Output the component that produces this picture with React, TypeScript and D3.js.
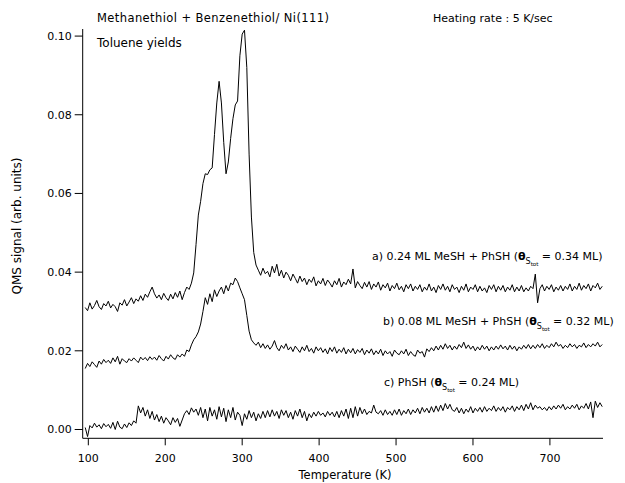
import React from "react";
import * as d3 from "d3";

// Temperature grid (K), 3 K sampling
const TEMPS: number[] = d3.range(96, 769, 3);

// a) 0.24 ML MeSH + PhSH
const TRACE_A: number[] = [
  0.0310, 0.0302, 0.0322, 0.0306, 0.0315, 0.0328, 0.0312, 0.0305, 0.0320, 0.0314,
  0.0326, 0.0309, 0.0318, 0.0312, 0.0300, 0.0322, 0.0316, 0.0330, 0.0314, 0.0324,
  0.0335, 0.0320, 0.0332, 0.0326, 0.0340, 0.0328, 0.0344, 0.0336, 0.0350, 0.0362,
  0.0345, 0.0334, 0.0342, 0.0330, 0.0346, 0.0335, 0.0328, 0.0344, 0.0332, 0.0348,
  0.0336, 0.0352, 0.0330, 0.0348, 0.0362, 0.0356, 0.0372, 0.0398, 0.0470, 0.0545,
  0.0580, 0.0625, 0.0650, 0.0648, 0.0660, 0.0665, 0.0750, 0.0830, 0.0885, 0.0830,
  0.0730, 0.0650, 0.0680, 0.0740, 0.0790, 0.0825, 0.0835, 0.0950, 0.1005, 0.1015,
  0.0920, 0.0700, 0.0540, 0.0450, 0.0418, 0.0405, 0.0392, 0.0410, 0.0396, 0.0402,
  0.0388, 0.0415, 0.0398, 0.0420, 0.0390, 0.0405, 0.0385, 0.0400, 0.0392, 0.0378,
  0.0395, 0.0384, 0.0372, 0.0390, 0.0376, 0.0385, 0.0368, 0.0382, 0.0374, 0.0388,
  0.0365, 0.0378, 0.0370, 0.0384, 0.0366, 0.0380, 0.0372, 0.0362, 0.0378, 0.0368,
  0.0384, 0.0362, 0.0375, 0.0368, 0.0382, 0.0370, 0.0408, 0.0360, 0.0376, 0.0366,
  0.0358, 0.0374, 0.0362, 0.0376, 0.0356, 0.0370, 0.0362, 0.0375, 0.0354, 0.0368,
  0.0360, 0.0372, 0.0352, 0.0366, 0.0358, 0.0372, 0.0355, 0.0364, 0.0350, 0.0368,
  0.0358, 0.0370, 0.0352, 0.0364, 0.0356, 0.0368, 0.0350, 0.0362, 0.0354, 0.0370,
  0.0352, 0.0362, 0.0348, 0.0366, 0.0356, 0.0370, 0.0354, 0.0364, 0.0350, 0.0368,
  0.0356, 0.0362, 0.0348, 0.0364, 0.0354, 0.0370, 0.0350, 0.0362, 0.0356, 0.0368,
  0.0350, 0.0364, 0.0352, 0.0360, 0.0348, 0.0366, 0.0356, 0.0368, 0.0350, 0.0364,
  0.0354, 0.0366, 0.0350, 0.0362, 0.0354, 0.0368, 0.0350, 0.0362, 0.0352, 0.0366,
  0.0350, 0.0360, 0.0352, 0.0364, 0.0358, 0.0395, 0.0322, 0.0358, 0.0368, 0.0352,
  0.0364, 0.0356, 0.0368, 0.0350, 0.0362, 0.0354, 0.0366, 0.0352, 0.0364, 0.0356,
  0.0370, 0.0352, 0.0364, 0.0356, 0.0372, 0.0354, 0.0366, 0.0358, 0.0370, 0.0352,
  0.0366, 0.0360, 0.0372, 0.0356, 0.0364,
];

// b) 0.08 ML MeSH + PhSH
const TRACE_B: number[] = [
  0.0155, 0.0168, 0.0160, 0.0172, 0.0165, 0.0158, 0.0174, 0.0166, 0.0178, 0.0170,
  0.0176, 0.0168, 0.0182, 0.0172, 0.0186, 0.0166, 0.0180, 0.0174, 0.0170, 0.0180,
  0.0174, 0.0182, 0.0176, 0.0170, 0.0184, 0.0177, 0.0183, 0.0175, 0.0185, 0.0178,
  0.0184, 0.0176, 0.0188, 0.0180, 0.0174, 0.0186, 0.0179, 0.0190, 0.0182, 0.0178,
  0.0190, 0.0184, 0.0192, 0.0186, 0.0202, 0.0198, 0.0215, 0.0228, 0.0236, 0.0248,
  0.0268, 0.0300, 0.0335, 0.0318, 0.0345, 0.0325, 0.0355, 0.0338, 0.0352, 0.0362,
  0.0345, 0.0366, 0.0352, 0.0372, 0.0368, 0.0385, 0.0376, 0.0360, 0.0345, 0.0330,
  0.0290, 0.0250, 0.0228, 0.0220, 0.0214, 0.0222, 0.0208, 0.0218, 0.0206, 0.0215,
  0.0204, 0.0212, 0.0226, 0.0208, 0.0200, 0.0214, 0.0206, 0.0218, 0.0202, 0.0210,
  0.0198, 0.0212, 0.0204, 0.0196, 0.0210, 0.0200, 0.0214, 0.0198, 0.0206, 0.0194,
  0.0210, 0.0200, 0.0208, 0.0196, 0.0205, 0.0192, 0.0208, 0.0198, 0.0210, 0.0194,
  0.0204, 0.0196, 0.0208, 0.0192, 0.0204, 0.0195, 0.0206, 0.0192, 0.0203, 0.0196,
  0.0206, 0.0190, 0.0202, 0.0194, 0.0205, 0.0190, 0.0200, 0.0192, 0.0204, 0.0188,
  0.0200, 0.0192, 0.0198, 0.0186, 0.0202, 0.0194, 0.0190, 0.0200, 0.0192, 0.0204,
  0.0188, 0.0198, 0.0190, 0.0186, 0.0202, 0.0194, 0.0198, 0.0184, 0.0205, 0.0198,
  0.0208, 0.0200, 0.0212, 0.0202, 0.0214, 0.0204, 0.0218, 0.0206, 0.0214, 0.0202,
  0.0212, 0.0204, 0.0216, 0.0208, 0.0222, 0.0206, 0.0215, 0.0204, 0.0212, 0.0200,
  0.0210, 0.0202, 0.0214, 0.0204, 0.0212, 0.0200, 0.0210, 0.0202, 0.0212, 0.0204,
  0.0215, 0.0205, 0.0212, 0.0202, 0.0214, 0.0204, 0.0212, 0.0200, 0.0210, 0.0204,
  0.0214, 0.0206, 0.0216, 0.0205, 0.0214, 0.0206, 0.0216, 0.0208, 0.0218, 0.0206,
  0.0214, 0.0208, 0.0218, 0.0210, 0.0222, 0.0212, 0.0216, 0.0206, 0.0214, 0.0208,
  0.0218, 0.0210, 0.0216, 0.0206, 0.0214, 0.0210, 0.0220, 0.0208, 0.0216, 0.0210,
  0.0218, 0.0212, 0.0222, 0.0210, 0.0216,
];

// c) PhSH
const TRACE_C: number[] = [
  0.0005, -0.0018, 0.0010, 0.0004, 0.0016, 0.0006, 0.0012, 0.0002, 0.0015, 0.0007,
  0.0013, 0.0003, 0.0018, 0.0000, 0.0021, 0.0006, 0.0002, 0.0014, 0.0005, 0.0017,
  0.0010, 0.0022, 0.0016, 0.0060, 0.0042, 0.0056, 0.0034, 0.0050, 0.0028, 0.0046,
  0.0024, 0.0038, 0.0020, 0.0034, 0.0016, 0.0030, 0.0022, 0.0012, 0.0030, 0.0018,
  0.0028, 0.0008, 0.0024, 0.0040, 0.0048, 0.0038, 0.0055, 0.0044, 0.0052, 0.0036,
  0.0056, 0.0030, 0.0052, 0.0022, 0.0056, 0.0034, 0.0050, 0.0026, 0.0058, 0.0032,
  0.0054, 0.0020, 0.0050, 0.0030, 0.0056, 0.0024, 0.0044, 0.0036, 0.0010, 0.0040,
  0.0026, 0.0048, 0.0030, 0.0044, 0.0022, 0.0040, 0.0028, 0.0046, 0.0030, 0.0048,
  0.0032, 0.0050, 0.0034, 0.0046, 0.0028, 0.0050, 0.0036, 0.0048, 0.0030, 0.0044,
  0.0026, 0.0048, 0.0034, 0.0052, 0.0030, 0.0046, 0.0022, 0.0040, 0.0030, 0.0044,
  0.0034, 0.0046, 0.0036, 0.0042, 0.0032, 0.0046, 0.0036, 0.0044, 0.0032, 0.0046,
  0.0030, 0.0048, 0.0034, 0.0052, 0.0028, 0.0054, 0.0030, 0.0058, 0.0034, 0.0056,
  0.0040, 0.0052, 0.0038, 0.0046, 0.0042, 0.0062, 0.0044, 0.0040, 0.0048, 0.0036,
  0.0050, 0.0038, 0.0046, 0.0036, 0.0050, 0.0038, 0.0052, 0.0036, 0.0048, 0.0040,
  0.0052, 0.0038, 0.0050, 0.0042, 0.0054, 0.0040, 0.0056, 0.0044, 0.0054, 0.0042,
  0.0058, 0.0044, 0.0060, 0.0046, 0.0062, 0.0048, 0.0066, 0.0052, 0.0064, 0.0050,
  0.0046, 0.0056, 0.0042, 0.0054, 0.0040, 0.0052, 0.0044, 0.0058, 0.0042, 0.0054,
  0.0046, 0.0056, 0.0044, 0.0058, 0.0046, 0.0054, 0.0048, 0.0060, 0.0046, 0.0056,
  0.0048, 0.0058, 0.0044, 0.0056, 0.0050, 0.0060, 0.0046, 0.0058, 0.0050, 0.0062,
  0.0048, 0.0064, 0.0052, 0.0068, 0.0050, 0.0062, 0.0054, 0.0058, 0.0050, 0.0056,
  0.0048, 0.0058, 0.0050, 0.0060, 0.0052, 0.0062, 0.0054, 0.0064, 0.0050, 0.0058,
  0.0052, 0.0062, 0.0054, 0.0064, 0.0050, 0.0060, 0.0054, 0.0066, 0.0052, 0.0070,
  0.0030, 0.0072, 0.0056, 0.0068, 0.0058,
];

const X_TICKS: number[] = [100, 200, 300, 400, 500, 600, 700];
const Y_TICKS: number[] = [0.0, 0.02, 0.04, 0.06, 0.08, 0.1];

const W = 625;
const H = 483;
const FONT = "'DejaVu Sans', sans-serif";

export default function App() {
  const x = d3.scaleLinear().domain([92.7, 769]).range([82.7, 603]);
  const y = d3.scaleLinear().domain([-0.00224, 0.1018]).range([438.3, 29]);
  const line = d3
    .line<number>()
    .x((_, i) => x(TEMPS[i]))
    .y((d) => y(d));

  const series = [TRACE_A, TRACE_B, TRACE_C];
  const x0 = x.range()[0];
  const yb = y.range()[0];

  const theta = () => (
    <>
      <tspan fontWeight="bold">{"θ"}</tspan>
      <tspan fontSize={8} dy={3.5}>S</tspan>
      <tspan fontSize={5.5} dy={2}>tot</tspan>
      <tspan dy={-5.5}>{"  = "}</tspan>
    </>
  );

  return (
    <svg
      width={W}
      height={H}
      style={{ position: "absolute", left: 0, top: 0, background: "#fff", whiteSpace: "pre" }}
      fontFamily={FONT}
      fontSize={11}
    >
      {series.map((s, k) => (
        <path key={k} d={line(s) || ""} fill="none" stroke="#000" strokeWidth={1} />
      ))}
      <line x1={x0} x2={x0} y1={y.range()[1]} y2={yb} stroke="#000" strokeWidth={1} />
      <line x1={x0} x2={x.range()[1]} y1={yb} y2={yb} stroke="#000" strokeWidth={1} />
      {Y_TICKS.map((t) => (
        <g key={t}>
          <line x1={x0 - 8} x2={x0} y1={y(t)} y2={y(t)} stroke="#000" />
          <text x={x0 - 11} y={y(t)} dy="0.35em" textAnchor="end">
            {d3.format(".2f")(t)}
          </text>
        </g>
      ))}
      {X_TICKS.map((t) => (
        <g key={t}>
          <line x1={x(t)} x2={x(t)} y1={yb} y2={yb + 7} stroke="#000" />
          <text x={x(t)} y={yb + 24} textAnchor="middle">
            {t}
          </text>
        </g>
      ))}
      <text x={345} y={479} textAnchor="middle" fontSize={11.5}>Temperature (K)</text>
      <text transform="translate(21,226) rotate(-90)" textAnchor="middle" fontSize={12}>
        QMS signal (arb. units)
      </text>
      <text x={97} y={22} fontSize={11.5} textLength={232} lengthAdjust="spacing">
        Methanethiol + Benzenethiol/ Ni(111)
      </text>
      <text x={97} y={47} fontSize={12}>Toluene yields</text>
      <text x={433} y={22}>Heating rate : 5 K/sec</text>
      <text x={372} y={260}>
        a) 0.24 ML MeSH + PhSH  ({theta()}0.34 ML)
      </text>
      <text x={383} y={325}>
        b) 0.08 ML MeSH + PhSH  ({theta()}0.32 ML)
      </text>
      <text x={384} y={386}>
        c) PhSH  ({theta()}0.24 ML)
      </text>
    </svg>
  );
}
